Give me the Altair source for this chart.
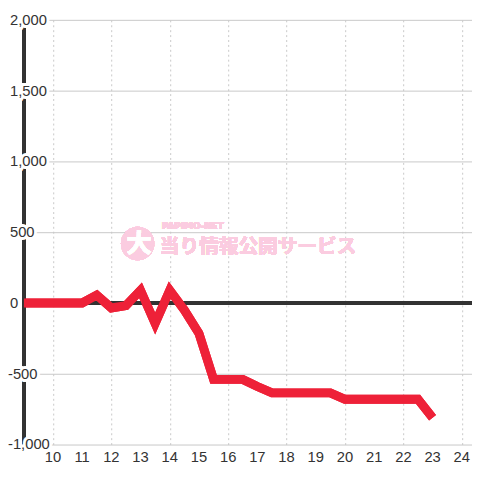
import altair as alt
import pandas as pd

# ---- data ----
hours = [9, 9.5, 10, 10.5, 11, 11.5, 12, 12.5, 13, 13.5, 14, 14.5, 15, 15.5,
         16, 16.5, 17, 17.5, 18, 18.5, 19, 19.5, 20, 20.5, 21, 21.5, 22, 22.5, 23]
values = [0, 0, 0, 0, 0, 55, -35, -18, 90, -145, 90, -50, -215, -540,
          -540, -540, -590, -635, -635, -635, -635, -635, -680, -680, -680, -680, -680, -680, -810]
x_ticks = [10, 11, 12, 13, 14, 15, 16, 17, 18, 19, 20, 21, 22, 23, 24]
y_grid = [-1000, -750, -500, -250, 0, 250, 500, 750, 1000, 1250, 1500, 1750, 2000]
y_labels = [-1000, -500, 0, 500, 1000, 1500, 2000]

df = pd.DataFrame({"hour": hours, "value": values})
xl = pd.DataFrame({"h": x_ticks, "t": [str(h) for h in x_ticks]})
lab = pd.DataFrame({"v": y_labels, "t": [f"{v:,}" for v in y_labels]})
lab_pos = lab[lab.v >= 0]
lab_neg = lab[lab.v < 0]

FONT = "Liberation Sans"
xs = alt.Scale(domain=[9, 24.35], nice=False, zero=False)
ys = alt.Scale(domain=[-1000, 2000], nice=False, zero=False)

line = alt.Chart(df).mark_line(
    color="#EE2138", strokeWidth=9, strokeJoin="miter", strokeCap="butt", clip=True
).encode(
    x=alt.X("hour:Q", scale=xs, axis=alt.Axis(
        values=x_ticks, title=None, grid=True, gridDash=[2, 3], gridColor="#c8c8c8",
        domain=False, ticks=False, labels=False)),
    y=alt.Y("value:Q", scale=ys, axis=alt.Axis(
        values=y_grid, title=None, grid=True, gridColor="#c8c8c8",
        domain=False, ticks=False, labels=False)),
)

x_text = alt.Chart(xl).mark_text(
    baseline="middle", align="center", fontSize=15, font=FONT, color="#333"
).encode(x=alt.X("h:Q", scale=xs), y=alt.value(445), text="t:N")

zero_rule = alt.Chart(df).mark_rule(color="#333", strokeWidth=3).encode(y=alt.datum(0))
y_rule = alt.Chart(df).mark_rule(color="#333", strokeWidth=3).encode(x=alt.datum(9))

def labels(d, dx):
    halo = alt.Chart(d).mark_text(
        align="left", baseline="middle", fontSize=15, font=FONT, dx=dx,
        stroke="white", strokeWidth=6, fill="white"
    ).encode(x=alt.datum(9), y=alt.Y("v:Q", scale=ys), text="t:N")
    txt = alt.Chart(d).mark_text(
        align="left", baseline="middle", fontSize=15, font=FONT, dx=dx, color="#333"
    ).encode(x=alt.datum(9), y=alt.Y("v:Q", scale=ys), text="t:N")
    return halo, txt

hp, tp = labels(lab_pos, -14)
hn, tn = labels(lab_neg, -16)

PINK = "#fbcce0"
# watermark
wm_circle = alt.Chart(df).mark_point(
    shape="circle", filled=True, size=1150, color=PINK, opacity=1
).encode(x=alt.datum(12.9), y=alt.datum(420))
wm_big = alt.Chart(df).mark_text(
    text="大", fontSize=26, font="Noto Sans CJK JP", fontWeight="bold", color="white"
).encode(x=alt.datum(12.95), y=alt.datum(415))
wm_small = alt.Chart(df).mark_text(
    text="PAPIMO-NET", fontSize=9, font="DejaVu Sans", fontWeight="bold",
    align="left", color=PINK
).encode(x=alt.datum(13.73), y=alt.datum(545))
wm_main = alt.Chart(df).mark_text(
    text="当り情報公開サービス", fontSize=20, font="Noto Sans CJK JP", fontWeight="bold",
    align="left", color=PINK
).encode(x=alt.datum(13.66), y=alt.datum(396))

chart = alt.layer(
    line, wm_circle, wm_big, wm_small, wm_main,
    zero_rule, y_rule, hp, hn, tp, tn, x_text, line
).properties(
    width=456, height=432, autosize="none",
    padding={"left": 16, "top": 8, "right": 0, "bottom": 32},
).configure_view(stroke=None)

chart.save("out.html", embed_options={"renderer": "svg", "actions": False})
